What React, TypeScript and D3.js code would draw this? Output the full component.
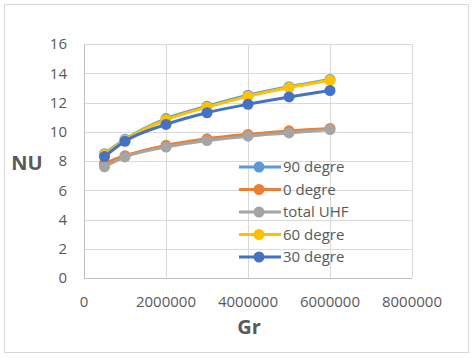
import { useRef, useEffect } from "react";
import * as d3 from "d3";

// Gr values (x) shared by every series
const grValues = [500000, 1000000, 2000000, 3000000, 4000000, 5000000, 6000000];

const seriesNames = ["90 degre", "0 degre", "total UHF", "60 degre", "30 degre"];
const seriesColors = ["#5B9BD5", "#ED7D31", "#A5A5A5", "#FFC000", "#4472C4"];

const nu90 = [8.5, 9.48, 10.9, 11.75, 12.5, 13.08, 13.58];
const nu0 = [7.84, 8.36, 9.07, 9.52, 9.82, 10.06, 10.23];
const nuTotal = [7.6, 8.28, 8.95, 9.4, 9.7, 9.92, 10.15];
const nu60 = [8.45, 9.44, 10.82, 11.68, 12.42, 13.02, 13.52];
const nu30 = [8.3, 9.35, 10.5, 11.3, 11.88, 12.38, 12.82];

const xTicks = [0, 2000000, 4000000, 6000000, 8000000];
const yTicks = [0, 2, 4, 6, 8, 10, 12, 14, 16];

const W = 473;
const H = 358;
const FONT = "'Open Sans', 'Liberation Sans', sans-serif";

export default function App() {
  const svgRef = useRef<SVGSVGElement | null>(null);

  useEffect(() => {
    if (!svgRef.current) return;
    const svg = d3.select(svgRef.current);
    svg.selectAll("*").remove();

    const seriesData = [nu90, nu0, nuTotal, nu60, nu30];

    // chart frame
    svg.append("rect")
      .attr("x", 4.5).attr("y", 4.5)
      .attr("width", 464).attr("height", 348)
      .attr("fill", "#fff")
      .attr("stroke", "#d9d9d9")
      .attr("stroke-width", 1);

    const x = d3.scaleLinear().domain([0, 8000000]).range([84, 412]);
    const y = d3.scaleLinear().domain([0, 16]).range([278, 44]);

    // gridlines
    const grid = svg.append("g");
    grid.selectAll(".hg").data(yTicks).enter().append("line")
      .attr("x1", x(0)).attr("x2", x(8000000))
      .attr("y1", (d) => Math.round(y(d)) + 0.5).attr("y2", (d) => Math.round(y(d)) + 0.5)
      .attr("stroke", "#d9d9d9").attr("stroke-width", 1);
    grid.selectAll(".vg").data(xTicks).enter().append("line")
      .attr("x1", (d) => Math.round(x(d)) + 0.5).attr("x2", (d) => Math.round(x(d)) + 0.5)
      .attr("y1", y(16)).attr("y2", y(0))
      .attr("stroke", "#d9d9d9").attr("stroke-width", 1);

    // axis lines
    svg.append("line")
      .attr("x1", x(0)).attr("x2", x(8000000))
      .attr("y1", Math.round(y(0)) + 0.5).attr("y2", Math.round(y(0)) + 0.5)
      .attr("stroke", "#bfbfbf").attr("stroke-width", 1);
    svg.append("line")
      .attr("x1", Math.round(x(0)) + 0.5).attr("x2", Math.round(x(0)) + 0.5)
      .attr("y1", y(16)).attr("y2", y(0))
      .attr("stroke", "#bfbfbf").attr("stroke-width", 1);

    // tick labels
    svg.append("g").selectAll("text").data(yTicks).enter().append("text")
      .attr("x", 67).attr("y", (d) => y(d))
      .attr("dy", "0.35em")
      .attr("text-anchor", "end")
      .attr("fill", "#595959")
      .attr("font-size", "15px")
      .attr("font-family", FONT)
      .text((d) => d);

    svg.append("g").selectAll("text").data(xTicks).enter().append("text")
      .attr("x", (d) => x(d)).attr("y", 302)
      .attr("dy", "0.35em")
      .attr("text-anchor", "middle")
      .attr("fill", "#595959")
      .attr("font-size", "15px")
      .attr("font-family", FONT)
      .text((d) => d);

    // axis titles
    svg.append("text")
      .attr("x", 27).attr("y", 163)
      .attr("dy", "0.35em")
      .attr("text-anchor", "middle")
      .attr("fill", "#595959")
      .attr("font-size", "20px")
      .attr("font-weight", "bold")
      .attr("font-family", FONT)
      .text("NU");

    svg.append("text")
      .attr("x", 249).attr("y", 327)
      .attr("dy", "0.35em")
      .attr("text-anchor", "middle")
      .attr("fill", "#595959")
      .attr("font-size", "20px")
      .attr("font-weight", "bold")
      .attr("font-family", FONT)
      .text("Gr");

    // series
    const line = d3.line<number>()
      .x((_, i) => x(grValues[i]))
      .y((d) => y(d))
      .curve(d3.curveMonotoneX);

    seriesData.forEach((vals, s) => {
      const g = svg.append("g");
      g.append("path")
        .attr("d", line(vals))
        .attr("fill", "none")
        .attr("stroke", seriesColors[s])
        .attr("stroke-width", 3)
        .attr("stroke-linejoin", "round");
      g.selectAll("circle").data(vals).enter().append("circle")
        .attr("cx", (_, i) => x(grValues[i]))
        .attr("cy", (d) => y(d))
        .attr("r", 5.5)
        .attr("fill", seriesColors[s]);
    });

    // legend
    const legend = svg.append("g");
    seriesNames.forEach((name, i) => {
      const ly = 167 + i * 22.5;
      legend.append("line")
        .attr("x1", 239).attr("x2", 281)
        .attr("y1", ly).attr("y2", ly)
        .attr("stroke", seriesColors[i]).attr("stroke-width", 3);
      legend.append("circle")
        .attr("cx", 259).attr("cy", ly).attr("r", 5.5)
        .attr("fill", seriesColors[i]);
      legend.append("text")
        .attr("x", 283).attr("y", ly)
        .attr("dy", "0.35em")
        .attr("fill", "#595959")
        .attr("font-size", "15px")
        .attr("font-family", FONT)
        .text(name);
    });
  }, []);

  return (
    <svg
      ref={svgRef}
      width={W}
      height={H}
      style={{ position: "absolute", left: 0, top: 0, background: "#fff" }}
    />
  );
}
